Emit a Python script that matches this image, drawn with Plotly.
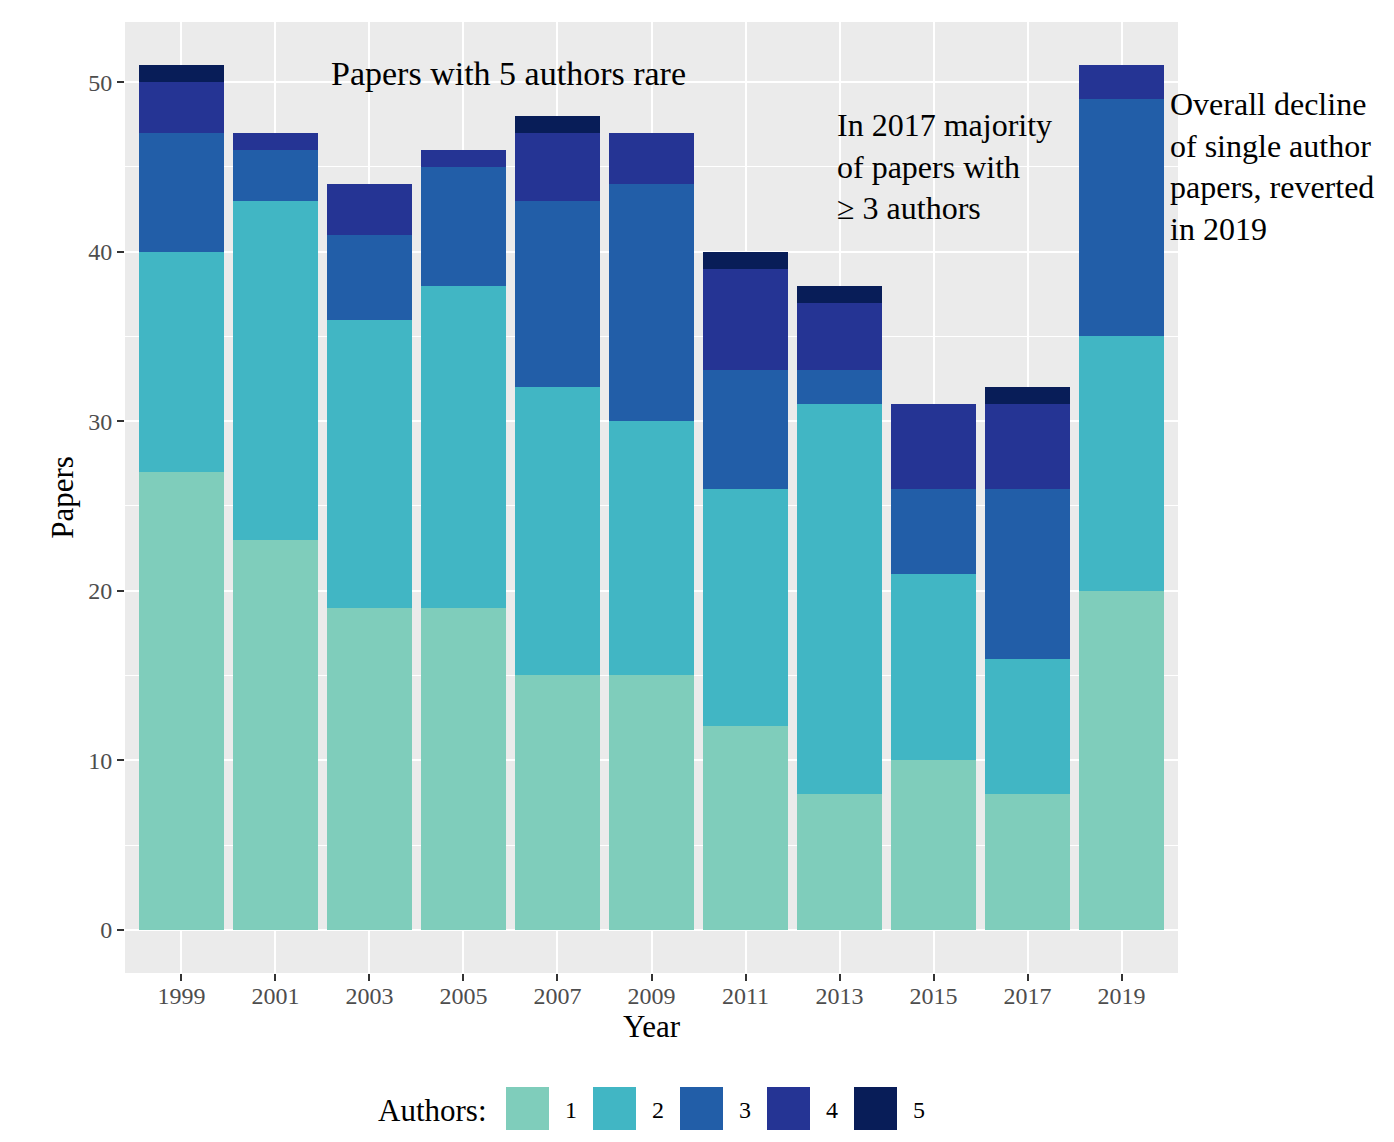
import plotly.graph_objects as go

# ---- data ----
years = [1999, 2001, 2003, 2005, 2007, 2009, 2011, 2013, 2015, 2017, 2019]
author_groups = ["1", "2", "3", "4", "5"]
authors_1 = [27, 23, 19, 19, 15, 15, 12, 8, 10, 8, 20]
authors_2 = [13, 20, 17, 19, 17, 15, 14, 23, 11, 8, 15]
authors_3 = [7, 3, 5, 7, 11, 14, 7, 2, 5, 10, 14]
authors_4 = [3, 1, 3, 1, 4, 3, 6, 4, 5, 5, 2]
authors_5 = [1, 0, 0, 0, 1, 0, 1, 1, 0, 1, 0]
colors = ["#7fcdbb", "#41b6c4", "#225ea8", "#253494", "#081d58"]
y_ticks = [0, 10, 20, 30, 40, 50]

series = [authors_1, authors_2, authors_3, authors_4, authors_5]

FONT = "Liberation Serif"
OFF = 8  # page body margin
W, H = 1394 - OFF, 1142 - OFF
L, R, T, B = 125 - OFF, 1178 - OFF, 22 - OFF, 973 - OFF  # plot area pixel box (figure coords)


def px2paper_x(px):
    return (px - OFF - L) / (R - L)


def px2paper_y(py):
    return (B - (py - OFF)) / (B - T)


fig = go.Figure()
for name, vals, col in zip(author_groups, series, colors):
    fig.add_trace(go.Bar(
        x=years, y=vals, name=name, width=1.8,
        marker=dict(color=col, line=dict(width=0)),
        showlegend=False,
    ))

annotations = [
    dict(x=2002.15, y=50.5, xref="x", yref="y", text="Papers with 5 authors rare",
         xanchor="left", yanchor="middle", showarrow=False,
         font=dict(family=FONT, size=34, color="black")),
    dict(x=2012.9, y=45, xref="x", yref="y",
         text="In 2017 majority<br>of papers with<br>≥ 3 authors",
         xanchor="left", yanchor="middle", align="left", showarrow=False,
         font=dict(family=FONT, size=32, color="black")),
    dict(x=2019.98, y=45, xref="x", yref="y",
         text="Overall decline<br>of single author<br>papers, reverted<br>in 2019",
         xanchor="left", yanchor="middle", align="left", showarrow=False,
         font=dict(family=FONT, size=32, color="black")),
]

# ---- custom legend (large keys like ggplot) ----
shapes = []
annotations.append(dict(x=px2paper_x(376), y=px2paper_y(1110), xref="paper", yref="paper",
                        text="Authors:", xanchor="left", yanchor="middle", showarrow=False,
                        font=dict(family=FONT, size=31, color="black")))
for i, (name, col) in enumerate(zip(author_groups, colors)):
    x0 = 506 + 87 * i
    shapes.append(dict(type="rect", xref="paper", yref="paper",
                       x0=px2paper_x(x0), x1=px2paper_x(x0 + 43),
                       y0=px2paper_y(1130), y1=px2paper_y(1087),
                       fillcolor=col, line=dict(width=0), layer="above"))
    annotations.append(dict(x=px2paper_x(x0 + 57), y=px2paper_y(1110), xref="paper", yref="paper",
                            text=name, xanchor="left", yanchor="middle", showarrow=False,
                            font=dict(family=FONT, size=24, color="black")))

fig.update_layout(
    width=W, height=H,
    margin=dict(l=L, r=W - R, t=T, b=H - B, pad=0),
    paper_bgcolor="white", plot_bgcolor="#EBEBEB",
    barmode="stack", bargap=0,
    font=dict(family=FONT, color="black"),
    annotations=annotations, shapes=shapes,
    showlegend=False,
)
fig.update_xaxes(
    range=[1997.8, 2020.2], tickmode="array", tickvals=years,
    ticktext=[str(y) for y in years],
    showgrid=True, gridcolor="white", gridwidth=2, zeroline=False,
    ticks="outside", ticklen=7, tickwidth=2, tickcolor="#333333",
    ticklabelstandoff=-6,
    tickfont=dict(family=FONT, size=24, color="#4D4D4D"),
    title=dict(text="Year", font=dict(family=FONT, size=31, color="black"), standoff=0),
    showline=False,
)
fig.update_yaxes(
    range=[-2.55, 53.55], tickmode="array", tickvals=y_ticks,
    showgrid=True, gridcolor="white", gridwidth=2, zeroline=False,
    minor=dict(tickmode="array", tickvals=[5, 15, 25, 35, 45], showgrid=True,
               gridcolor="white", gridwidth=1, ticks=""),
    ticks="outside", ticklen=7, tickwidth=2, tickcolor="#333333",
    tickfont=dict(family=FONT, size=24, color="#4D4D4D"),
    title=dict(text="Papers", font=dict(family=FONT, size=31, color="black"), standoff=5),
    showline=False,
)

fig.write_html("out.html")
